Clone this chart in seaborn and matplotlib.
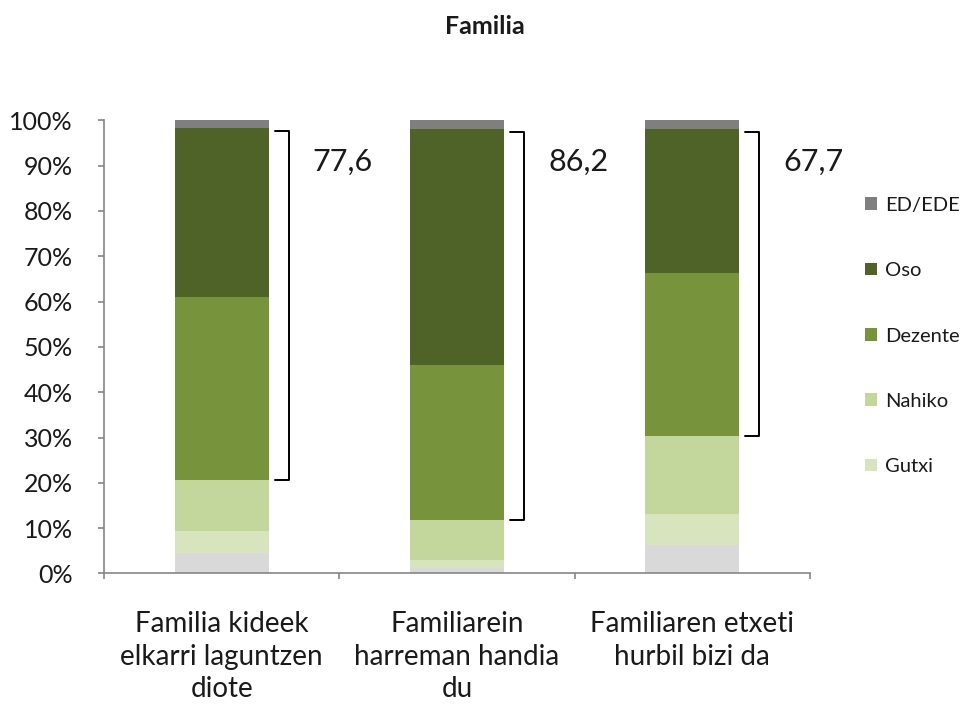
import matplotlib
matplotlib.use("Agg")
import matplotlib.pyplot as plt
from matplotlib.patches import Patch
from matplotlib.ticker import FixedLocator
import numpy as np
import seaborn as sns

# ── Data (percent of respondents) ──────────────────────────────────────────
categories = [
    "Familia kideek\nelkarri laguntzen\ndiote",
    "Familiarein\nharreman handia\ndu",
    "Familiaren etxeti\nhurbil bizi da",
]
batere = [4.5, 1.3, 6.3]      # bottom segment, not in the legend
gutxi = [4.9, 1.6, 6.9]
nahiko = [11.3, 9.0, 17.2]
dezente = [40.3, 34.1, 36.0]
oso = [37.3, 52.1, 31.7]
ed_ede = [1.7, 1.9, 1.9]

levels = ["Batere ez", "Gutxi", "Nahiko", "Dezente", "Oso", "ED/EDE"]
series = [batere, gutxi, nahiko, dezente, oso, ed_ede]
COLORS = ["#D9D9D9", "#D7E4BD", "#C3D69B", "#77933C", "#4F6228", "#7F7F7F"]

# ── Style ──────────────────────────────────────────────────────────────────
sns.set_style("white")
plt.rcParams["font.family"] = ["Lato", "DejaVu Sans"]
AXIS_GRAY = "#868686"
TEXT = "#1a1a1a"

fig = plt.figure(figsize=(9.69, 7.04), dpi=100)
ax = fig.add_axes([0.1073, 0.1854, 0.7286, 0.6437])

bar_w = 0.4
bottom = np.zeros(len(categories))
for name, vals, color in zip(levels, series, COLORS):
    sns.barplot(x=categories, y=vals, bottom=bottom, color=color,
                width=bar_w, linewidth=0, saturation=1, ax=ax)
    bottom += np.array(vals)

ax.set_xlim(-0.5, len(categories) - 0.5)
ax.set_ylim(0, 100)

# brackets around Dezente + Oso
lo = np.array(batere) + np.array(gutxi) + np.array(nahiko)
hi = lo + np.array(dezente) + np.array(oso)
for i in range(len(categories)):
    x0 = i + bar_w / 2 + 0.025
    xv = i + bar_w / 2 + 0.085
    top = hi[i] - 0.7
    ax.plot([x0, xv, xv, x0], [lo[i], lo[i], top, top],
            color="black", lw=1.4, solid_joinstyle="round")
    total = dezente[i] + oso[i]
    ax.text(i + bar_w / 2 + 0.187, 90.8, f"{total:.1f}".replace(".", ","),
            ha="left", va="center", fontsize=22, color=TEXT)

# ── Axes ───────────────────────────────────────────────────────────────────
sns.despine(ax=ax)
for side in ("left", "bottom"):
    ax.spines[side].set_color(AXIS_GRAY)
    ax.spines[side].set_linewidth(1.2)

ax.set_yticks(np.arange(0, 101, 10))
ax.set_yticklabels([f"{v}%" for v in range(0, 101, 10)])
ax.tick_params(axis="y", direction="out", length=4.5, width=1.2,
               color=AXIS_GRAY, pad=18, labelsize=18, labelcolor=TEXT, left=True)

ax.set_xticks(range(len(categories)))
ax.set_xticklabels(categories, linespacing=1.32)
ax.xaxis.set_minor_locator(FixedLocator(np.arange(-0.5, len(categories), 1.0)))
ax.tick_params(axis="x", which="major", length=0, pad=27, labelsize=20, labelcolor=TEXT)
ax.tick_params(axis="x", which="minor", direction="out", length=4.5, width=1.2,
               color=AXIS_GRAY, bottom=True)
ax.set_xlabel("")
ax.set_ylabel("")

fig.suptitle("Familia", x=0.5, y=1 - 27 / 704, va="center",
             fontsize=18, fontweight="bold", color=TEXT)

handles = [Patch(facecolor=c, edgecolor="none", label=n)
           for n, c in zip(levels[1:], COLORS[1:])][::-1]
fig.legend(handles=handles, loc="center left", bbox_to_anchor=(865 / 969, 0.5227),
           frameon=False, fontsize=14.5, handlelength=0.6, handleheight=0.6,
           handletextpad=0.4, labelspacing=2.4, borderpad=0, borderaxespad=0,
           labelcolor=TEXT)

fig.savefig("out.png", dpi=100)
